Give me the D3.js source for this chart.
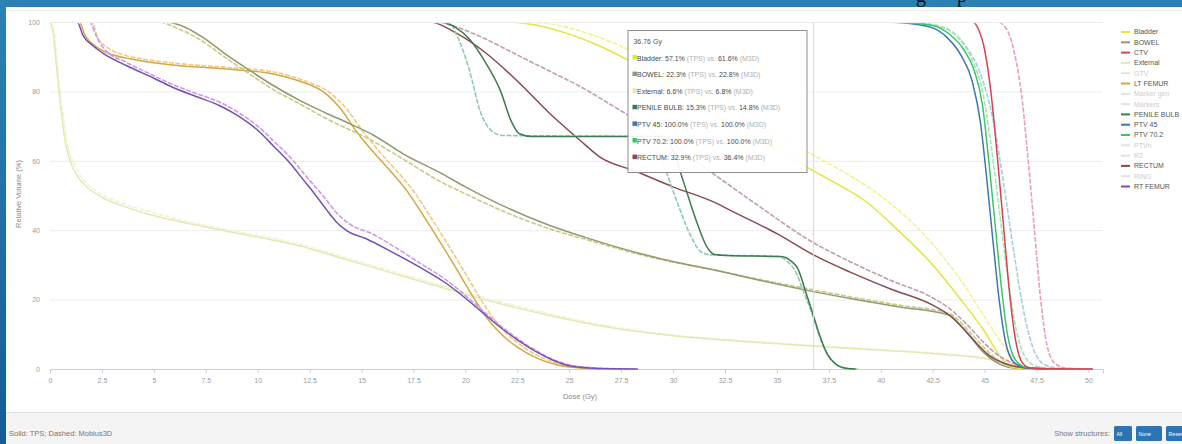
<!DOCTYPE html>
<html>
	<head>
		<title>DVH - TPS vs Mobius3D</title>

		<!--libs-->
		<script src="https://d3js.org/d3.v7.min.js"></script>

		<!--css-->
		<style>
			body {
				margin: 0;
				background: #2a7fb1;
				overflow: hidden;
			}
			svg text {
				font-family: "Liberation Sans", Arial, sans-serif;
			}
			.axis path, .axis line {
				stroke: #cfcfcf;
			}
			.axis text {
				fill: #9a9a9a;
				font-size: 7px;
			}
			.grid line {
				stroke: #ececec;
			}
			.grid path {
				display: none;
			}
		</style>
		<!--css-->
	</head>
	<body>
		<div class="dvhchart" data-width="1182" data-height="444"></div>

		<!--js-->
		<script>
			//dose axis
			var xTickValues = [0, 2.5, 5, 7.5, 10, 12.5, 15, 17.5, 20, 22.5, 25, 27.5, 30, 32.5, 35, 37.5, 40, 42.5, 45, 47.5, 50];
			var xTickLabels = ["0", "2.5", "5", "7.5", "10", "12.5", "15", "17.5", "20", "22.5", "25", "27.5", "30", "32.5", "35", "37.5", "40", "42.5", "45", "47.5", "50"];
			var yTickValues = [0, 20, 40, 60, 80, 100];
			var yTickLabels = ["0", "20", "40", "60", "80", "100"];

			//legend
			var structureNames = ["Bladder", "BOWEL", "CTV", "External", "GTV", "LT FEMUR", "Marker gen", "Markers", "PENILE BULB", "PTV 45", "PTV 70.2", "PTVn", "R2", "RECTUM", "RING", "RT FEMUR"];
			var structureShown = [true, true, true, true, false, true, false, false, true, true, true, false, false, true, false, true];

			//dvh curves [dose Gy, volume %] - solid = TPS, dashed = M3D
			var externalTps = [[0,100],[0.15,97],[0.3,88],[0.5,76],[0.75,65],[1.1,58],[1.6,53.5],[2.5,49.5],[3.5,47],[4.8,44.5],[7,41.5],[10,38],[12,35.5],[14,32],[16,28.5],[18,25],[20,21.5],[22,18.3],[24,15.5],[26,13],[28,11],[30,9.6],[33,8.1],[36.76,6.6],[40,5.4],[43,4.2],[45,3],[46,1.6],[47,0.4],[48,0.05],[50.2,0]];
			var externalM3d = [[0,100],[0.2,97],[0.35,88],[0.55,77],[0.8,66],[1.2,58.5],[1.7,54],[2.6,50],[3.6,47.5],[5,45],[7,42],[10,38.5],[12,36],[14,32.5],[16,29],[18,25.5],[20,22],[22,18.8],[24,16],[26,13.4],[28,11.3],[30,9.8],[33,8.3],[36.76,6.8],[40,5.6],[43,4.4],[45,3.2],[46,1.8],[47,0.5],[48,0.1],[50.2,0]];

			var rtFemurTps = [[0,100],[1.3,100],[1.6,96],[2.1,93],[2.6,90.8],[3.7,87.4],[5,83.8],[5.9,81.2],[7,78.6],[8.2,75.8],[9.1,72.8],[10,68.8],[10.8,64],[11.6,59],[12.2,54.5],[12.7,50.8],[13.3,46],[13.8,42.3],[14.3,39.8],[15.2,37.6],[16.5,33.6],[17.9,29],[19,25],[19.8,21.4],[20.8,16.4],[21.6,12.4],[22.5,8.4],[23.4,5],[24.2,2.6],[24.9,1.1],[26,0.3],[27,0.05],[28.3,0]];
			var rtFemurM3d = [[0,100],[1.9,100],[2.3,95],[2.65,92],[3.7,88.3],[5,84.5],[5.9,82],[7,79.5],[8.2,76.8],[9.1,73.8],[10,70],[10.8,65.5],[11.6,60.8],[12.2,56.5],[12.7,53],[13.3,48.8],[13.8,45],[14.5,41.5],[15.5,39],[16.5,35.5],[17.9,30.2],[19,26],[19.8,22.2],[20.8,17],[21.6,12.9],[22.5,8.8],[23.4,5.3],[24.2,2.8],[25,1.2],[26,0.4],[27,0.1],[28.3,0]];

			var ltFemurTps = [[0,100],[1.4,100],[1.7,96],[2.2,93],[2.8,91],[3.85,89.4],[5.9,87.6],[8.35,86.5],[10.75,85],[12,83],[13.2,79.7],[14,74.9],[14.8,68.1],[15.6,62.3],[16.4,57],[17.2,51.2],[18,44],[19,34.5],[19.8,26.5],[20.5,19.5],[21,15],[21.6,10.8],[22.5,6.3],[23.5,3],[24.5,1.1],[25.5,0.3],[26.5,0]];
			var ltFemurM3d = [[0,100],[2,100],[2.3,95.5],[2.8,92.5],[3.5,90.6],[4.5,89.3],[5.9,88.2],[8.35,87],[10.75,85.6],[12.2,83.2],[13.5,79.5],[14.3,74.8],[15.1,68.2],[15.9,62.4],[16.7,57],[17.5,51.3],[18.3,44],[19.3,34.5],[20.1,26.5],[20.8,19.5],[21.3,15],[21.9,10.8],[22.8,6.3],[23.8,3],[24.8,1.1],[25.8,0.3],[26.8,0]];

			var bowelTps = [[0,100],[5.6,100],[6.5,98.5],[7.5,95],[8.5,90.5],[9.5,86.5],[10.75,81.7],[12,77.5],[13.2,74],[14.5,70.5],[15.6,67.3],[17,62],[18.8,56.5],[20,52.5],[22,46.5],[24,41.5],[26,37.5],[28.4,33.3],[30,31],[32,28.5],[34,25.8],[36.76,22.3],[39,19.8],[41,17.8],[43.3,15.5],[44.2,10],[45,4.5],[45.8,1.2],[46.5,0.2],[47.5,0]];
			var bowelM3d = [[0,100],[5.2,100],[6.2,98],[7.2,95],[8.5,89.5],[9.5,85.5],[10.75,80.5],[12,76.5],[13.2,72.5],[15.6,65.5],[17,60.5],[18.8,54],[20,50.5],[22,45],[24,40.5],[26,37],[28.4,33],[30,30.8],[32,28.5],[34,26],[36.76,22.8],[39,20.3],[41,18.3],[43.3,16],[44.3,10.5],[45.2,4.8],[46,1.3],[46.8,0.2],[47.8,0]];

			var bladderTps = [[0,100],[22,100],[23.5,99],[25,96.5],[26.5,93],[28,88.5],[30,82],[32,74.5],[34,67],[36.76,57.1],[38,53],[39.3,48.2],[40.9,39.6],[42.5,30],[43.8,20.4],[45,10.8],[45.8,3.2],[46.3,0.5],[47,0.05],[50.2,0]];
			var bladderM3d = [[0,100],[23,100],[24.5,99],[26,96.5],[27.5,93],[29,88.5],[31,82],[33,74.5],[35,67.5],[36.76,61.6],[38,57.5],[39.5,52],[41,45],[42.5,36],[43.8,26],[45,15],[46,6],[46.7,1.5],[47.3,0.2],[50.2,0]];

			var rectumTps = [[0,100],[18.3,100],[19.5,97],[21,91],[22.5,83],[24,74],[25.5,66],[26.5,61],[28.2,57],[30,52.5],[32,48],[33,45],[35,39],[36.76,32.9],[38.5,28],[40.5,23],[42.5,18.4],[43.3,15.5],[44,11.5],[44.6,7.5],[45.2,4],[46,1.5],[47,0.3],[48,0]];
			var rectumM3d = [[0,100],[18.6,100],[19.6,98.5],[21,95],[22.5,90.5],[24,86],[25.5,81.5],[26.5,78],[28,72.5],[30,64.5],[32,56],[34,47.5],[36.76,36.4],[38.5,31],[40.5,25.5],[42.5,20.5],[43.4,17],[44.2,12.5],[44.9,8],[45.6,4.2],[46.4,1.6],[47.3,0.3],[48.5,0]];

			var penileTps = [[0,100],[18.8,100],[19.5,98.5],[20.2,95],[21,88],[21.7,80],[22.2,71.5],[22.6,67.8],[23.2,67],[29.6,67],[30,63],[30.5,54],[31.1,43],[31.6,35.5],[32,33],[32.6,32.7],[35.2,32.4],[35.7,31],[36,29],[36.4,22],[36.76,15.3],[37.1,9],[37.4,4.5],[37.8,1.5],[38.3,0.2],[38.8,0]];
			var penileM3d = [[0,100],[19.2,100],[19.6,96],[20.2,86],[20.7,74.5],[21.2,69],[21.8,67.3],[28.8,67],[29.2,64],[29.6,58],[30.2,48],[30.8,39],[31.3,34],[31.8,32.9],[35,32.5],[35.5,31],[35.9,28],[36.3,22],[36.76,14.8],[37.1,8.5],[37.5,3.8],[37.9,1.2],[38.4,0.2],[38.9,0]];

			var ptv45Tps = [[0,100],[40,100],[41.5,99.5],[42.5,98.3],[43.2,95.5],[43.9,90],[44.4,83],[44.8,71],[45.1,55],[45.4,37],[45.7,20],[46,8],[46.4,2],[47,0.3],[48,0.05],[50.2,0]];
			var ptv45M3d = [[0,100],[41,100],[42.3,99.3],[43.3,97.5],[44.1,93],[44.8,85],[45.4,72],[45.9,54],[46.4,34],[46.9,16],[47.4,5],[47.9,1.2],[48.6,0.2],[50.2,0]];
			var ptv70Tps = [[0,100],[40,100],[41.5,99.7],[42.5,99],[43.3,96.5],[44,92],[44.5,86],[44.9,76],[45.2,60],[45.5,42],[45.8,24],[46.1,10],[46.5,2.5],[47,0.5],[48,0.1],[50.2,0]];
			var ptv70M3d = [[0,100],[40.5,100],[42,99.6],[43,98.5],[43.8,95],[44.4,89],[44.9,80],[45.3,65],[45.7,46],[46.1,27],[46.5,12],[46.9,4],[47.5,0.8],[48.5,0.1],[50.2,0]];
			var ctvTps = [[0,100],[44.4,100],[44.7,98],[45,92],[45.3,80],[45.6,62],[45.9,42],[46.2,22],[46.5,8],[46.8,2],[47.2,0.3],[48,0.05],[50.2,0]];
			var ctvM3d = [[0,100],[45.6,100],[46,98.5],[46.4,92],[46.8,78],[47.1,60],[47.4,40],[47.7,20],[48,7],[48.4,1.5],[49,0.2],[50.2,0]];

			//tooltip at cursor
			var cursorDose = 36.76;
			var tipNames = ["Bladder", "BOWEL", "External", "PENILE BULB", "PTV 45", "PTV 70.2", "RECTUM"];
			var tipTps = [57.1, 22.3, 6.6, 15.3, 100.0, 100.0, 32.9];
			var tipM3d = [61.6, 22.8, 6.8, 14.8, 100.0, 100.0, 36.4];

			//colours
			var tpsColor = {
				"Bladder": "#e6e43c", "BOWEL": "#8e9a70", "CTV": "#d8424f", "External": "#e4e9b2",
				"GTV": "#d9d2ec", "LT FEMUR": "#d6a642", "Marker gen": "#e8e8e8", "Markers": "#cbd9e6",
				"PENILE BULB": "#3e7a4e", "PTV 45": "#3a79b0", "PTV 70.2": "#3dc468", "PTVn": "#d6ebd0",
				"R2": "#e4e4e4", "RECTUM": "#8a4a4e", "RING": "#e6e6e6", "RT FEMUR": "#7450b6"
			};
			var m3dColor = {
				"Bladder": "#f1f19a", "BOWEL": "#c7cb83", "CTV": "#e8a2b4", "External": "#f0f3d6",
				"LT FEMUR": "#efca84", "PENILE BULB": "#91c8b2", "PTV 45": "#a6cde2", "PTV 70.2": "#a2e5b3",
				"RECTUM": "#bea0ac", "RT FEMUR": "#d49ae0"
			};

			var dvh = [
				{ name: "External", tps: externalTps, m3d: externalM3d },
				{ name: "LT FEMUR", tps: ltFemurTps, m3d: ltFemurM3d },
				{ name: "RT FEMUR", tps: rtFemurTps, m3d: rtFemurM3d },
				{ name: "BOWEL", tps: bowelTps, m3d: bowelM3d },
				{ name: "Bladder", tps: bladderTps, m3d: bladderM3d },
				{ name: "RECTUM", tps: rectumTps, m3d: rectumM3d },
				{ name: "PENILE BULB", tps: penileTps, m3d: penileM3d },
				{ name: "PTV 45", tps: ptv45Tps, m3d: ptv45M3d },
				{ name: "PTV 70.2", tps: ptv70Tps, m3d: ptv70M3d },
				{ name: "CTV", tps: ctvTps, m3d: ctvM3d }
			];

			var $el = document.querySelector('.dvhchart');
			var width = +$el.dataset.width,
				height = +$el.dataset.height;

			var svg = d3.select($el)
				.append("svg")
				.attr("width", width)
				.attr("height", height);

			var defs = svg.append("defs");
			var grad = defs.append("linearGradient")
				.attr("id", "sidebar")
				.attr("x1", 0).attr("y1", 0).attr("x2", 0).attr("y2", 1);
			grad.append("stop").attr("offset", "0%").attr("stop-color", "#2b82b3");
			grad.append("stop").attr("offset", "100%").attr("stop-color", "#135d99");

			//page frame
			svg.append("rect").attr("width", width).attr("height", height).attr("fill", "#2a80b1");
			svg.append("rect").attr("width", 6).attr("height", height).attr("fill", "url(#sidebar)");

			svg.append("text").attr("x", 916).attr("y", 2).attr("font-size", 20)
				.style("font-family", "'Liberation Serif', serif").attr("fill", "#111").text("g");
			svg.append("text").attr("x", 957).attr("y", 2).attr("font-size", 20)
				.style("font-family", "'Liberation Serif', serif").attr("fill", "#111").text("p");

			svg.append("rect").attr("x", 6).attr("y", 7).attr("width", width - 6).attr("height", 405).attr("fill", "#fff");
			svg.append("line").attr("x1", 6).attr("x2", width).attr("y1", 10.5).attr("y2", 10.5).attr("stroke", "#ececec");
			svg.append("rect").attr("x", 6).attr("y", 412).attr("width", width - 6).attr("height", 32).attr("fill", "#f4f4f4");
			svg.append("line").attr("x1", 6).attr("x2", width).attr("y1", 412.5).attr("y2", 412.5).attr("stroke", "#e0e0e0");

			//scales
			var x = d3.scaleLinear().domain([0, 50.7]).range([50, 1103]);
			var y = d3.scaleLinear().domain([0, 100]).range([369, 22]);

			var plot = svg.append("g");

			plot.append("g")
				.attr("class", "grid")
				.attr("transform", "translate(50,0)")
				.call(d3.axisLeft(y).tickValues(yTickValues.slice(1)).tickSize(-(1103 - 50)).tickFormat(""));

			plot.append("g")
				.attr("class", "axis y")
				.attr("transform", "translate(50,0)")
				.call(d3.axisLeft(y).tickValues(yTickValues).tickSize(0).tickPadding(10)
					.tickFormat(function(d, i) { return yTickLabels[i]; }))
				.select(".domain").remove();

			plot.append("g")
				.attr("class", "axis x")
				.attr("transform", "translate(0,369)")
				.call(d3.axisBottom(x).tickValues(xTickValues).tickSize(4).tickPadding(5)
					.tickFormat(function(d, i) { return xTickLabels[i]; }));

			plot.append("text")
				.attr("x", 580).attr("y", 399)
				.attr("text-anchor", "middle")
				.attr("font-size", 7.5).attr("fill", "#8a8a8a")
				.text("Dose (Gy)");

			plot.append("text")
				.attr("transform", "translate(21,194) rotate(-90)")
				.attr("text-anchor", "middle")
				.attr("font-size", 7.5).attr("fill", "#8a8a8a")
				.text("Relative Volume (%)");

			//lines sitting on 100% are clipped away, like the original
			defs.append("clipPath").attr("id", "plotclip")
				.append("rect").attr("x", 49).attr("y", 23.2).attr("width", 1060).attr("height", 349);

			//curves
			var line = d3.line()
				.x(function(d) { return x(d[0]); })
				.y(function(d) { return y(d[1]); })
				.curve(d3.curveMonotoneX);

			var curves = plot.append("g").attr("clip-path", "url(#plotclip)");

			dvh.forEach(function(s) {
				curves.append("path")
					.attr("d", line(s.m3d))
					.attr("fill", "none")
					.attr("stroke", m3dColor[s.name])
					.attr("stroke-width", 1.6)
					.attr("stroke-dasharray", "5,1.5");
				curves.append("path")
					.attr("d", line(s.tps))
					.attr("fill", "none")
					.attr("stroke", tpsColor[s.name])
					.attr("stroke-width", 1.5);
			});

			//crosshair
			plot.append("line")
				.attr("x1", x(cursorDose)).attr("x2", x(cursorDose))
				.attr("y1", y(100)).attr("y2", y(0))
				.attr("stroke", "#dcdcdc");

			//tooltip
			var tip = svg.append("g").attr("transform", "translate(" + (x(cursorDose) - 186) + ",30)");
			tip.append("rect")
				.attr("x", 0.5).attr("y", 0.5)
				.attr("width", 179).attr("height", 142)
				.attr("fill", "rgba(255,255,255,0.92)")
				.attr("stroke", "#8e8e8e");
			tip.append("text")
				.attr("x", 6).attr("y", 14)
				.attr("font-size", 7).attr("fill", "#555")
				.text(cursorDose + " Gy");

			var rows = tip.selectAll("g.row")
				.data(tipNames)
				.enter().append("g")
				.attr("class", "row")
				.attr("transform", function(d, i) { return "translate(0," + (30.5 + i * 16.6) + ")"; });

			rows.append("rect")
				.attr("x", 5).attr("y", -5.5)
				.attr("width", 4.5).attr("height", 4.5)
				.attr("fill", function(d) { return tpsColor[d]; });

			var rowText = rows.append("text")
				.attr("x", 9.5).attr("font-size", 7);
			rowText.append("tspan").attr("fill", "#4a4a4a")
				.text(function(d, i) { return d + ": " + tipTps[i].toFixed(1) + "% "; });
			rowText.append("tspan").attr("fill", "#b0b0b0").text("(TPS) vs. ");
			rowText.append("tspan").attr("fill", "#4a4a4a")
				.text(function(d, i) { return tipM3d[i].toFixed(1) + "% "; });
			rowText.append("tspan").attr("fill", "#b0b0b0").text("(M3D)");

			//legend
			var legend = svg.append("g")
				.attr("class", "legend")
				.attr("transform", "translate(1121,32)");

			var items = legend.selectAll("g.item")
				.data(structureNames)
				.enter().append("g")
				.attr("class", "item")
				.attr("transform", function(d, i) { return "translate(0," + (i * 10.3) + ")"; });

			items.append("line")
				.attr("x1", 0).attr("x2", 9)
				.attr("stroke-width", 2)
				.attr("stroke", function(d, i) { return structureShown[i] ? tpsColor[d] : "#e2e2e2"; });

			items.append("text")
				.attr("x", 13).attr("dy", "0.35em")
				.attr("font-size", 7)
				.attr("fill", function(d, i) { return structureShown[i] ? "#555" : "#cccccc"; })
				.text(function(d) { return d; });

			//footer
			svg.append("text")
				.attr("x", 9).attr("y", 436)
				.attr("font-size", 7.5).attr("fill", "#777")
				.text("Solid: TPS; Dashed: Mobius3D");

			svg.append("text")
				.attr("x", 1110).attr("y", 436)
				.attr("text-anchor", "end")
				.attr("font-size", 7.5).attr("fill", "#777")
				.text("Show structures:");

			var buttons = [["All", 1114, 18], ["None", 1136, 26], ["Reset", 1166, 26]];
			buttons.forEach(function(b) {
				svg.append("rect")
					.attr("x", b[1]).attr("y", 426)
					.attr("width", b[2]).attr("height", 15)
					.attr("rx", 1.5)
					.attr("fill", "#2d74b4");
				svg.append("text")
					.attr("x", b[1] + 2.5).attr("y", 436)
					.attr("font-size", 5.2).attr("fill", "#fff")
					.text(b[0]);
			});
		</script>
		<!--js-->
	</body>
</html>
